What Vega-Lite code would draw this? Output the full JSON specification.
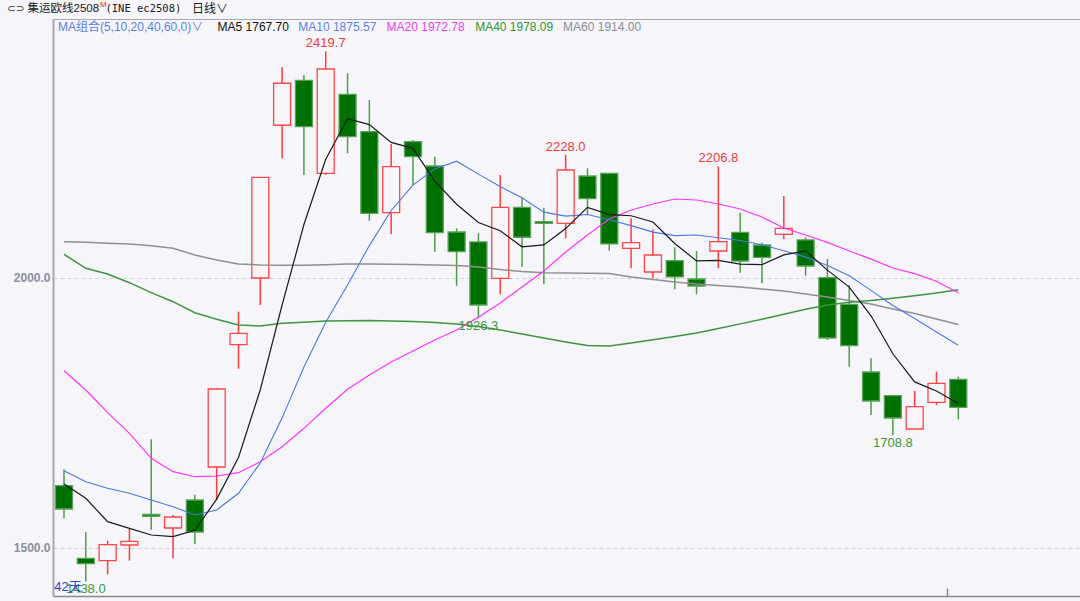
{
  "$schema": "https://vega.github.io/schema/vega-lite/v6.json",
  "width": 1027,
  "height": 577,
  "autosize": {"type": "none"},
  "padding": {"left": 53, "top": 19, "right": 0, "bottom": 5},
  "background": "#f5f5fa",
  "config": {
    "view": {"stroke": "#a8a8b0", "strokeWidth": 1},
    "axisX": {"labels": false, "grid": false, "domainColor": "#8a8a8a", "domainWidth": 1.5, "tickColor": "#8a8a8a", "tickSize": -8, "tickWidth": 1.5},
    "axisY": {"grid": true, "gridDash": [4, 3], "gridColor": "#cfd0d8", "domainColor": "#a8a8b0", "domainWidth": 2, "ticks": false, "labelColor": "#8a90a0", "labelFontWeight": "bold", "labelFont": "Liberation Sans", "labelFontSize": 12, "labelPadding": 3}
  },
  "datasets": {
    "k": [
      {"i":1,"o":1615.4,"h":1645.7,"l":1555.0,"c":1572.2,"m5":1618.5,"m10":1643.1,"m20":1828.3,"m40":2043.9,"m60":2067.2},
      {"i":2,"o":1480.9,"h":1529.0,"l":1438.0,"c":1470.9,"m5":1592.0,"m10":1622.8,"m20":1792.6,"m40":2018.0,"m60":2066.0},
      {"i":3,"o":1476.5,"h":1513.5,"l":1451.3,"c":1506.1,"m5":1548.7,"m10":1610.5,"m20":1750.6,"m40":2007.4,"m60":2064.2},
      {"i":4,"o":1505.5,"h":1537.0,"l":1476.5,"c":1512.4,"m5":1536.4,"m10":1601.3,"m20":1712.4,"m40":1991.3,"m60":2063.0},
      {"i":5,"o":1562.0,"h":1701.3,"l":1533.3,"c":1558.5,"m5":1524.1,"m10":1588.9,"m20":1666.0,"m40":1972.8,"m60":2059.8},
      {"i":6,"o":1537.0,"h":1561.1,"l":1480.9,"c":1557.4,"m5":1521.2,"m10":1576.5,"m20":1641.3,"m40":1956.1,"m60":2055.0},
      {"i":7,"o":1588.9,"h":1598.7,"l":1507.4,"c":1529.6,"m5":1532.9,"m10":1561.1,"m20":1632.0,"m40":1935.7,"m60":2042.6},
      {"i":8,"o":1650.0,"h":1796.0,"l":1588.9,"c":1794.4,"m5":1590.6,"m10":1570.3,"m20":1633.3,"m40":1923.5,"m60":2033.3},
      {"i":9,"o":1876.5,"h":1937.6,"l":1832.0,"c":1897.6,"m5":1667.6,"m10":1601.3,"m20":1639.4,"m40":1913.0,"m60":2025.9},
      {"i":10,"o":2000.0,"h":2187.0,"l":1950.0,"c":2186.5,"m5":1793.1,"m10":1657.5,"m20":1659.8,"m40":1911.1,"m60":2024.1},
      {"i":11,"o":2282.8,"h":2390.2,"l":2221.7,"c":2360.6,"m5":1950.0,"m10":1741.0,"m20":1687.6,"m40":1916.1,"m60":2023.5},
      {"i":12,"o":2366.1,"h":2376.0,"l":2190.8,"c":2280.2,"m5":2099.0,"m10":1835.0,"m20":1721.6,"m40":1918.0,"m60":2023.5},
      {"i":13,"o":2193.9,"h":2419.7,"l":2190.8,"c":2387.0,"m5":2220.0,"m10":1918.0,"m20":1758.7,"m40":1920.4,"m60":2024.6},
      {"i":14,"o":2340.2,"h":2379.1,"l":2230.9,"c":2261.7,"m5":2295.0,"m10":1987.0,"m20":1793.9,"m40":1921.0,"m60":2025.9},
      {"i":15,"o":2271.0,"h":2329.7,"l":2106.1,"c":2119.8,"m5":2284.0,"m10":2060.0,"m20":1820.4,"m40":1921.3,"m60":2025.9},
      {"i":16,"o":2121.0,"h":2248.2,"l":2080.9,"c":2206.2,"m5":2251.0,"m10":2125.0,"m20":1844.4,"m40":1920.4,"m60":2025.4},
      {"i":17,"o":2252.4,"h":2255.6,"l":2172.2,"c":2224.6,"m5":2240.0,"m10":2172.0,"m20":1864.8,"m40":1919.4,"m60":2025.0},
      {"i":18,"o":2207.4,"h":2224.6,"l":2048.7,"c":2083.9,"m5":2179.2,"m10":2202.0,"m20":1885.2,"m40":1917.6,"m60":2024.0},
      {"i":19,"o":2085.2,"h":2092.0,"l":1985.7,"c":2048.7,"m5":2136.6,"m10":2216.3,"m20":1903.7,"m40":1914.8,"m60":2023.0},
      {"i":20,"o":2066.7,"h":2082.8,"l":1926.3,"c":1950.0,"m5":2102.7,"m10":2192.3,"m20":1927.5,"m40":1910.2,"m60":2020.4},
      {"i":21,"o":1999.4,"h":2190.8,"l":1969.8,"c":2130.9,"m5":2087.6,"m10":2169.3,"m20":1953.7,"m40":1903.7,"m60":2015.7},
      {"i":22,"o":2130.9,"h":2147.6,"l":2020.9,"c":2075.4,"m5":2057.8,"m10":2148.5,"m20":1983.3,"m40":1896.3,"m60":2012.0},
      {"i":23,"o":2104.5,"h":2130.2,"l":1988.3,"c":2101.0,"m5":2061.2,"m10":2122.0,"m20":2013.0,"m40":1888.9,"m60":2009.8},
      {"i":24,"o":2101.3,"h":2228.0,"l":2073.5,"c":2200.0,"m5":2091.5,"m10":2114.5,"m20":2048.2,"m40":1881.5,"m60":2009.3},
      {"i":25,"o":2188.9,"h":2203.2,"l":2116.7,"c":2146.9,"m5":2130.8,"m10":2117.5,"m20":2079.6,"m40":1875.0,"m60":2008.7},
      {"i":26,"o":2193.9,"h":2194.5,"l":2050.6,"c":2063.0,"m5":2117.3,"m10":2108.0,"m20":2109.3,"m40":1874.1,"m60":2008.3},
      {"i":27,"o":2055.0,"h":2110.6,"l":2018.0,"c":2065.4,"m5":2115.3,"m10":2097.0,"m20":2125.9,"m40":1879.5,"m60":2001.9},
      {"i":28,"o":2011.1,"h":2090.2,"l":1999.4,"c":2042.6,"m5":2103.6,"m10":2085.0,"m20":2137.0,"m40":1885.5,"m60":1997.2},
      {"i":29,"o":2032.0,"h":2056.9,"l":1979.1,"c":2001.9,"m5":2064.0,"m10":2078.5,"m20":2146.3,"m40":1891.5,"m60":1992.6},
      {"i":30,"o":1998.1,"h":2050.0,"l":1969.8,"c":1985.2,"m5":2031.6,"m10":2079.5,"m20":2144.4,"m40":1898.0,"m60":1988.9},
      {"i":31,"o":2050.0,"h":2206.8,"l":2018.0,"c":2067.2,"m5":2032.5,"m10":2074.5,"m20":2137.0,"m40":1906.5,"m60":1986.1},
      {"i":32,"o":2084.6,"h":2121.0,"l":2009.8,"c":2031.5,"m5":2025.7,"m10":2069.5,"m20":2127.8,"m40":1915.0,"m60":1983.3},
      {"i":33,"o":2061.1,"h":2065.4,"l":1990.2,"c":2038.3,"m5":2024.8,"m10":2061.5,"m20":2113.0,"m40":1923.5,"m60":1979.6},
      {"i":34,"o":2080.9,"h":2151.9,"l":2071.7,"c":2092.0,"m5":2042.8,"m10":2050.5,"m20":2092.6,"m40":1933.0,"m60":1975.9},
      {"i":35,"o":2070.4,"h":2075.4,"l":2004.3,"c":2022.2,"m5":2050.2,"m10":2039.0,"m20":2079.6,"m40":1942.0,"m60":1970.4},
      {"i":36,"o":2000.6,"h":2035.2,"l":1885.2,"c":1888.9,"m5":2014.6,"m10":2023.0,"m20":2066.0,"m40":1950.0,"m60":1964.8},
      {"i":37,"o":1951.3,"h":1987.0,"l":1835.7,"c":1874.6,"m5":1983.2,"m10":2004.0,"m20":2050.0,"m40":1955.0,"m60":1958.3},
      {"i":38,"o":1825.9,"h":1851.3,"l":1746.3,"c":1772.2,"m5":1930.0,"m10":1977.0,"m20":2035.0,"m40":1958.5,"m60":1951.8},
      {"i":39,"o":1782.0,"h":1782.5,"l":1708.8,"c":1740.7,"m5":1859.7,"m10":1949.0,"m20":2018.5,"m40":1962.5,"m60":1942.6},
      {"i":40,"o":1720.4,"h":1791.3,"l":1720.0,"c":1761.7,"m5":1807.6,"m10":1925.0,"m20":2008.0,"m40":1967.0,"m60":1934.3},
      {"i":41,"o":1769.8,"h":1826.5,"l":1764.8,"c":1805.0,"m5":1790.8,"m10":1900.0,"m20":1994.0,"m40":1972.2,"m60":1924.1},
      {"i":42,"o":1812.4,"h":1817.2,"l":1738.3,"c":1760.5,"m5":1767.7,"m10":1875.57,"m20":1972.78,"m40":1978.09,"m60":1914.0}
    ],
    "marks": [
      {"i":13,"v":2419.7,"k":"h"},
      {"i":24,"v":2228.0,"k":"h"},
      {"i":31,"v":2206.8,"k":"h"},
      {"i":2,"v":1438.0,"k":"l"},
      {"i":20,"v":1926.3,"k":"l"},
      {"i":39,"v":1708.8,"k":"l"}
    ]
  },
  "layer": [
    {
      "data": {"name": "k"},
      "mark": {"type": "rule", "strokeWidth": 1.5},
      "encoding": {
        "x": {"field": "i", "type": "quantitative", "title": null, "scale": {"domain": [0.496, 47.58], "nice": false, "zero": false, "padding": 0}, "axis": {"values": [41.5]}},
        "y": {"field": "l", "type": "quantitative", "title": null, "scale": {"domain": [1411.1, 2479.6], "nice": false, "zero": false}, "axis": {"values": [1500, 2000], "format": ".1f"}},
        "y2": {"field": "h"},
        "color": {"condition": {"test": "datum.c >= datum.o", "value": "#ff3b3b"}, "value": "#4c9c4c"}
      }
    },
    {
      "data": {"name": "k"},
      "mark": {"type": "bar", "size": 17, "strokeWidth": 1.3},
      "encoding": {
        "x": {"field": "i", "type": "quantitative", "title": null, "scale": {"domain": [0.496, 47.58], "nice": false, "zero": false, "padding": 0}, "axis": {"values": [41.5]}},
        "y": {"field": "o", "type": "quantitative", "title": null, "scale": {"domain": [1411.1, 2479.6], "nice": false, "zero": false}, "axis": {"values": [1500, 2000], "format": ".1f"}},
        "y2": {"field": "c"},
        "fill": {"condition": {"test": "datum.c >= datum.o", "value": "#f5f5fa"}, "value": "#007000"},
        "stroke": {"condition": {"test": "datum.c >= datum.o", "value": "#ff4646"}, "value": "#5aa25a"}
      }
    },
    {
      "data": {"name": "k"},
      "mark": {"type": "line", "strokeWidth": 1.5, "color": "#909090"},
      "encoding": {
        "x": {"field": "i", "type": "quantitative", "title": null, "scale": {"domain": [0.496, 47.58], "nice": false, "zero": false, "padding": 0}, "axis": {"values": [41.5]}},
        "y": {"field": "m60", "type": "quantitative", "title": null, "scale": {"domain": [1411.1, 2479.6], "nice": false, "zero": false}, "axis": {"values": [1500, 2000], "format": ".1f"}}
      }
    },
    {
      "data": {"name": "k"},
      "mark": {"type": "line", "strokeWidth": 1.5, "color": "#3c963c"},
      "encoding": {
        "x": {"field": "i", "type": "quantitative", "title": null, "scale": {"domain": [0.496, 47.58], "nice": false, "zero": false, "padding": 0}, "axis": {"values": [41.5]}},
        "y": {"field": "m40", "type": "quantitative", "title": null, "scale": {"domain": [1411.1, 2479.6], "nice": false, "zero": false}, "axis": {"values": [1500, 2000], "format": ".1f"}}
      }
    },
    {
      "data": {"name": "k"},
      "mark": {"type": "line", "strokeWidth": 1.2, "color": "#ff33ff"},
      "encoding": {
        "x": {"field": "i", "type": "quantitative", "title": null, "scale": {"domain": [0.496, 47.58], "nice": false, "zero": false, "padding": 0}, "axis": {"values": [41.5]}},
        "y": {"field": "m20", "type": "quantitative", "title": null, "scale": {"domain": [1411.1, 2479.6], "nice": false, "zero": false}, "axis": {"values": [1500, 2000], "format": ".1f"}}
      }
    },
    {
      "data": {"name": "k"},
      "mark": {"type": "line", "strokeWidth": 1.1, "color": "#4a78e2"},
      "encoding": {
        "x": {"field": "i", "type": "quantitative", "title": null, "scale": {"domain": [0.496, 47.58], "nice": false, "zero": false, "padding": 0}, "axis": {"values": [41.5]}},
        "y": {"field": "m10", "type": "quantitative", "title": null, "scale": {"domain": [1411.1, 2479.6], "nice": false, "zero": false}, "axis": {"values": [1500, 2000], "format": ".1f"}}
      }
    },
    {
      "data": {"name": "k"},
      "mark": {"type": "line", "strokeWidth": 1.2, "color": "#1a1a1a"},
      "encoding": {
        "x": {"field": "i", "type": "quantitative", "title": null, "scale": {"domain": [0.496, 47.58], "nice": false, "zero": false, "padding": 0}, "axis": {"values": [41.5]}},
        "y": {"field": "m5", "type": "quantitative", "title": null, "scale": {"domain": [1411.1, 2479.6], "nice": false, "zero": false}, "axis": {"values": [1500, 2000], "format": ".1f"}}
      }
    },
    {
      "data": {"name": "marks"},
      "transform": [{"filter": "datum.k == 'h'"}],
      "mark": {"type": "text", "baseline": "bottom", "dy": -1, "font": "Liberation Sans", "fontSize": 13, "color": "#f03a3a"},
      "encoding": {
        "x": {"field": "i", "type": "quantitative", "title": null, "scale": {"domain": [0.496, 47.58], "nice": false, "zero": false, "padding": 0}, "axis": {"values": [41.5]}},
        "y": {"field": "v", "type": "quantitative", "title": null, "scale": {"domain": [1411.1, 2479.6], "nice": false, "zero": false}, "axis": {"values": [1500, 2000], "format": ".1f"}},
        "text": {"field": "v", "type": "quantitative", "format": ".1f"}
      }
    },
    {
      "data": {"name": "marks"},
      "transform": [{"filter": "datum.k == 'l'"}],
      "mark": {"type": "text", "baseline": "top", "dy": 2, "font": "Liberation Sans", "fontSize": 13, "color": "#3a9a3a"},
      "encoding": {
        "x": {"field": "i", "type": "quantitative", "title": null, "scale": {"domain": [0.496, 47.58], "nice": false, "zero": false, "padding": 0}, "axis": {"values": [41.5]}},
        "y": {"field": "v", "type": "quantitative", "title": null, "scale": {"domain": [1411.1, 2479.6], "nice": false, "zero": false}, "axis": {"values": [1500, 2000], "format": ".1f"}},
        "text": {"field": "v", "type": "quantitative", "format": ".1f"}
      }
    },
    {
      "data": {"values": [{}]},
      "mark": {"type": "text", "text": "42天", "align": "left", "baseline": "middle", "font": "Liberation Sans, Noto Sans CJK SC", "fontSize": 13, "color": "#3040c8"},
      "encoding": {
        "x": {"datum": 0.55, "type": "quantitative", "title": null, "scale": {"domain": [0.496, 47.58], "nice": false, "zero": false, "padding": 0}, "axis": {"values": [41.5]}},
        "y": {"datum": 1427.5, "type": "quantitative", "title": null, "scale": {"domain": [1411.1, 2479.6], "nice": false, "zero": false}, "axis": {"values": [1500, 2000], "format": ".1f"}}
      }
    },
    {
      "data": {"values": [{}]},
      "mark": {"type": "text", "text": "⊂⊃", "align": "left", "baseline": "middle", "font": "DejaVu Sans", "fontSize": 10, "color": "#303030"},
      "encoding": {
        "x": {"datum": -1.6, "type": "quantitative", "title": null, "scale": {"domain": [0.496, 47.58], "nice": false, "zero": false, "padding": 0}, "axis": {"values": [41.5]}},
        "y": {"datum": 2498.1, "type": "quantitative", "title": null, "scale": {"domain": [1411.1, 2479.6], "nice": false, "zero": false}, "axis": {"values": [1500, 2000], "format": ".1f"}}
      }
    },
    {
      "data": {"values": [{}]},
      "mark": {"type": "text", "text": "集运欧线2508", "align": "left", "baseline": "middle", "font": "Liberation Sans, Noto Sans CJK SC", "fontSize": 11.5, "color": "#202020"},
      "encoding": {
        "x": {"datum": -0.67, "type": "quantitative", "title": null, "scale": {"domain": [0.496, 47.58], "nice": false, "zero": false, "padding": 0}, "axis": {"values": [41.5]}},
        "y": {"datum": 2498.1, "type": "quantitative", "title": null, "scale": {"domain": [1411.1, 2479.6], "nice": false, "zero": false}, "axis": {"values": [1500, 2000], "format": ".1f"}}
      }
    },
    {
      "data": {"values": [{}]},
      "mark": {"type": "text", "text": "M", "align": "left", "baseline": "middle", "font": "Liberation Sans", "fontSize": 8, "color": "#f02020"},
      "encoding": {
        "x": {"datum": 2.65, "type": "quantitative", "title": null, "scale": {"domain": [0.496, 47.58], "nice": false, "zero": false, "padding": 0}, "axis": {"values": [41.5]}},
        "y": {"datum": 2505.5, "type": "quantitative", "title": null, "scale": {"domain": [1411.1, 2479.6], "nice": false, "zero": false}, "axis": {"values": [1500, 2000], "format": ".1f"}}
      }
    },
    {
      "data": {"values": [{}]},
      "mark": {"type": "text", "text": "(INE ec2508)", "align": "left", "baseline": "middle", "font": "DejaVu Sans Mono", "fontSize": 10.5, "color": "#202020"},
      "encoding": {
        "x": {"datum": 2.9, "type": "quantitative", "title": null, "scale": {"domain": [0.496, 47.58], "nice": false, "zero": false, "padding": 0}, "axis": {"values": [41.5]}},
        "y": {"datum": 2498.1, "type": "quantitative", "title": null, "scale": {"domain": [1411.1, 2479.6], "nice": false, "zero": false}, "axis": {"values": [1500, 2000], "format": ".1f"}}
      }
    },
    {
      "data": {"values": [{}]},
      "mark": {"type": "text", "text": "日线∨", "align": "left", "baseline": "middle", "font": "Noto Sans CJK SC", "fontSize": 12, "color": "#202020"},
      "encoding": {
        "x": {"datum": 6.87, "type": "quantitative", "title": null, "scale": {"domain": [0.496, 47.58], "nice": false, "zero": false, "padding": 0}, "axis": {"values": [41.5]}},
        "y": {"datum": 2498.1, "type": "quantitative", "title": null, "scale": {"domain": [1411.1, 2479.6], "nice": false, "zero": false}, "axis": {"values": [1500, 2000], "format": ".1f"}}
      }
    },
    {
      "data": {"values": [{}]},
      "mark": {"type": "text", "text": "MA组合(5,10,20,40,60,0)∨", "align": "left", "baseline": "middle", "font": "Liberation Sans, Noto Sans CJK SC", "fontSize": 12, "color": "#5a82e6"},
      "encoding": {
        "x": {"datum": 0.72, "type": "quantitative", "title": null, "scale": {"domain": [0.496, 47.58], "nice": false, "zero": false, "padding": 0}, "axis": {"values": [41.5]}},
        "y": {"datum": 2464.8, "type": "quantitative", "title": null, "scale": {"domain": [1411.1, 2479.6], "nice": false, "zero": false}, "axis": {"values": [1500, 2000], "format": ".1f"}}
      }
    },
    {
      "data": {"values": [{}]},
      "mark": {"type": "text", "text": "MA5 1767.70", "align": "left", "baseline": "middle", "font": "Liberation Sans", "fontSize": 12, "color": "#111111"},
      "encoding": {
        "x": {"datum": 8.04, "type": "quantitative", "title": null, "scale": {"domain": [0.496, 47.58], "nice": false, "zero": false, "padding": 0}, "axis": {"values": [41.5]}},
        "y": {"datum": 2464.8, "type": "quantitative", "title": null, "scale": {"domain": [1411.1, 2479.6], "nice": false, "zero": false}, "axis": {"values": [1500, 2000], "format": ".1f"}}
      }
    },
    {
      "data": {"values": [{}]},
      "mark": {"type": "text", "text": "MA10 1875.57", "align": "left", "baseline": "middle", "font": "Liberation Sans", "fontSize": 12, "color": "#5a82e6"},
      "encoding": {
        "x": {"datum": 11.74, "type": "quantitative", "title": null, "scale": {"domain": [0.496, 47.58], "nice": false, "zero": false, "padding": 0}, "axis": {"values": [41.5]}},
        "y": {"datum": 2464.8, "type": "quantitative", "title": null, "scale": {"domain": [1411.1, 2479.6], "nice": false, "zero": false}, "axis": {"values": [1500, 2000], "format": ".1f"}}
      }
    },
    {
      "data": {"values": [{}]},
      "mark": {"type": "text", "text": "MA20 1972.78", "align": "left", "baseline": "middle", "font": "Liberation Sans", "fontSize": 12, "color": "#f03cf0"},
      "encoding": {
        "x": {"datum": 15.79, "type": "quantitative", "title": null, "scale": {"domain": [0.496, 47.58], "nice": false, "zero": false, "padding": 0}, "axis": {"values": [41.5]}},
        "y": {"datum": 2464.8, "type": "quantitative", "title": null, "scale": {"domain": [1411.1, 2479.6], "nice": false, "zero": false}, "axis": {"values": [1500, 2000], "format": ".1f"}}
      }
    },
    {
      "data": {"values": [{}]},
      "mark": {"type": "text", "text": "MA40 1978.09", "align": "left", "baseline": "middle", "font": "Liberation Sans", "fontSize": 12, "color": "#2e962e"},
      "encoding": {
        "x": {"datum": 19.85, "type": "quantitative", "title": null, "scale": {"domain": [0.496, 47.58], "nice": false, "zero": false, "padding": 0}, "axis": {"values": [41.5]}},
        "y": {"datum": 2464.8, "type": "quantitative", "title": null, "scale": {"domain": [1411.1, 2479.6], "nice": false, "zero": false}, "axis": {"values": [1500, 2000], "format": ".1f"}}
      }
    },
    {
      "data": {"values": [{}]},
      "mark": {"type": "text", "text": "MA60 1914.00", "align": "left", "baseline": "middle", "font": "Liberation Sans", "fontSize": 12, "color": "#8c8c8c"},
      "encoding": {
        "x": {"datum": 23.88, "type": "quantitative", "title": null, "scale": {"domain": [0.496, 47.58], "nice": false, "zero": false, "padding": 0}, "axis": {"values": [41.5]}},
        "y": {"datum": 2464.8, "type": "quantitative", "title": null, "scale": {"domain": [1411.1, 2479.6], "nice": false, "zero": false}, "axis": {"values": [1500, 2000], "format": ".1f"}}
      }
    }
  ]
}
